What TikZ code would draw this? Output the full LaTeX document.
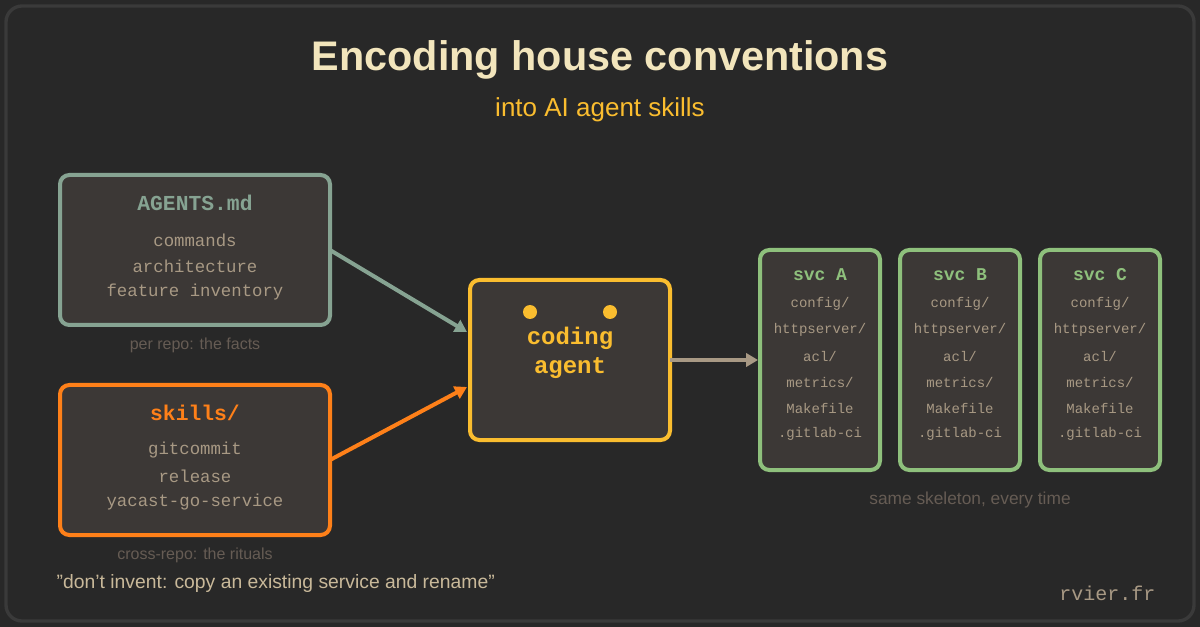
\documentclass[tikz,border=0pt]{standalone}
\usepackage{fontspec}
\setmainfont{Liberation Sans}
\setmonofont{Liberation Mono}
\usetikzlibrary{positioning,calc,arrows.meta}
\definecolor{bg}{HTML}{282828}
\definecolor{frame}{HTML}{3A3A3A}
\definecolor{boxbg}{HTML}{3C3836}
\definecolor{cream}{HTML}{F2E5BC}
\definecolor{ylw}{HTML}{FABD2F}
\definecolor{sage}{HTML}{86A392}
\definecolor{orng}{HTML}{FE8019}
\definecolor{grn}{HTML}{8EC07C}
\definecolor{tan}{HTML}{A89984}
\definecolor{dim}{HTML}{665C54}
\definecolor{quote}{HTML}{C9B99A}
\tikzset{
  panel/.style={draw=#1, line width=3pt, fill=boxbg, rounded corners=7pt},
  head/.style={font=\ttfamily\bfseries\fontsize{16}{16}\selectfont, text=#1},
  item/.style={font=\ttfamily\fontsize{13}{13}\selectfont, text=tan},
  svcitem/.style={font=\ttfamily\fontsize{10.5}{10.5}\selectfont, text=tan},
  note/.style={font=\fontsize{12}{12}\selectfont, text=dim},
  link/.style={line width=3pt, -{Triangle[length=9pt,width=10pt]}, draw=#1},
}
\begin{document}
\begin{tikzpicture}[x=0.75pt, y=-0.75pt]
\fill[bg] (0,0) rectangle (1200,627);
\useasboundingbox (0,0) rectangle (1200,627);
\draw[frame, line width=2.5pt, rounded corners=12pt] (6,6) rectangle (1194,621);
% title
\node (title) at (600,60) {\fontsize{31}{31}\selectfont\bfseries\color{cream}Encoding house conventions};
\node (sub) at (600,110) {\fontsize{19.5}{19.5}\selectfont\color{ylw}into AI agent skills};
% left panels
\draw[panel=sage] (60,175) rectangle (330,325);
\coordinate (agOut) at (330,250);
\node[head=sage] (agH) at (195,203) {AGENTS.md};
\node[item] at (195,240) {commands};
\node[item] at (195,266) {architecture};
\node[item] at (195,292) {feature inventory};
\node[note] (agN) at (195,345) {per repo: the facts};
\draw[panel=orng] (60,385) rectangle (330,535);
\coordinate (skOut) at (330,460);
\node[head=orng] (skH) at (195,413) {skills/};
\node[item] at (195,450) {gitcommit};
\node[item] at (195,476) {release};
\node[item] at (195,502) {yacast-go-service};
\node[note] (skN) at (195,555) {cross-repo: the rituals};
\node[anchor=west, font=\fontsize{14.5}{14.5}\selectfont, text=quote] (q) at (52,583) {"don't invent: copy an existing service and rename"};
% agent
\draw[panel=ylw] (470,280) rectangle (670,440);
\coordinate (agIn1) at (467,332);
\coordinate (agIn2) at (467,387);
\coordinate (agOut2) at (670,360);
\fill[ylw] (530,312) circle (7) (610,312) circle (7);
\node[head=ylw, font=\ttfamily\bfseries\fontsize{18}{18}\selectfont] (cd) at (570,338) {coding};
\node[head=ylw, font=\ttfamily\bfseries\fontsize{18}{18}\selectfont] (ag) at (570,368) {agent};
\draw[link=sage] (agOut) -- (agIn1);
\draw[link=orng] (skOut) -- (agIn2);
% services
\coordinate (svcIn) at (758,360);
\draw[link=tan] (agOut2) -- (svcIn);
\foreach \x/\n in {820/A, 960/B, 1100/C}{
  \draw[panel=grn] (\x-60,250) rectangle (\x+60,470);
  \node[head=grn, font=\ttfamily\bfseries\fontsize{13.5}{13.5}\selectfont] (svc\n) at (\x,275) {svc \n};
  \foreach \t [count=\i] in {config/, httpserver/, acl/, metrics/, Makefile, .gitlab-ci}
    \node[svcitem] at (\x,278+26*\i) {\t};
}
\node[note, font=\fontsize{13}{13}\selectfont] (svcN) at (970,500) {same skeleton, every time};
\node[anchor=east, font=\ttfamily\fontsize{15}{15}\selectfont, text=tan] (site) at (1160,593) {rvier.fr};
\end{tikzpicture}
\end{document}
